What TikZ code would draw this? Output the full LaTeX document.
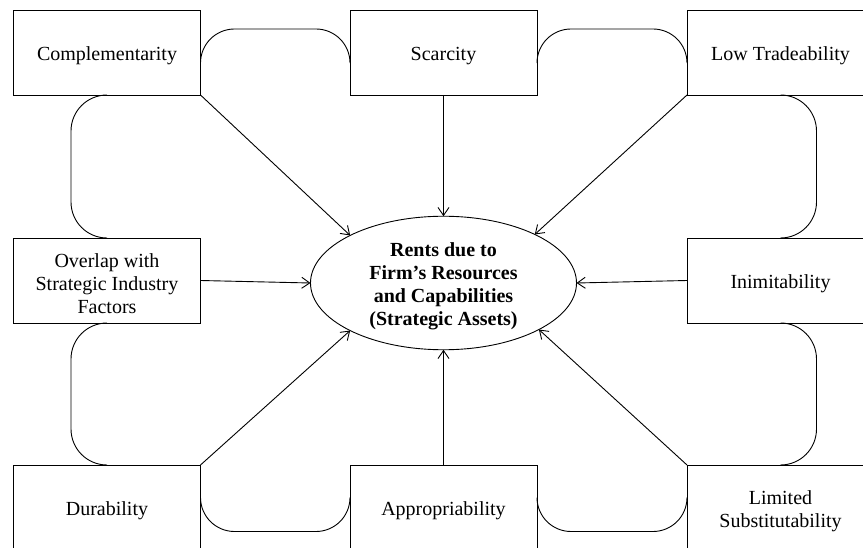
\documentclass[tikz,border=0pt]{standalone}
\usepackage{fontspec}
\setmainfont{Liberation Serif}
\usetikzlibrary{shapes.geometric,arrows.meta,calc}

% extra room above the first line, to sit the text a little low in its box
\newcommand{\lowstrut}{\rule{0pt}{21pt}}

\tikzset{
  factor/.style={draw, rectangle, minimum width=187pt, minimum height=85pt,
    inner sep=0pt, outer sep=0pt, align=center,
    font=\fontsize{20}{23}\selectfont},
  rent/.style={draw, ellipse, minimum width=266pt, minimum height=132pt,
    inner sep=0pt, outer sep=0pt, align=center,
    font=\fontsize{20}{23}\selectfont\bfseries},
  feed/.style={-{Straight Barb[length=8pt,width=11pt]}},
  link/.style={rounded corners=34pt},
}

\begin{document}
\begin{tikzpicture}[x=1pt, y=-1pt, line width=0.9pt]
  \useasboundingbox (0,0) rectangle (863,548);
  \clip (0,0) rectangle (863,548);

  % central asset node
  \node[rent] (e) at (443.5,283) {\lowstrut Rents due to\\Firm’s Resources\\and Capabilities\\(Strategic Assets)};

  % surrounding resource attributes
  \node[factor] (comp) at (107,52.5)   {\lowstrut Complementarity};
  \node[factor] (scar) at (443.5,52.5) {\lowstrut Scarcity};
  \node[factor] (lowt) at (780.5,52.5) {\lowstrut Low Tradeability};
  \node[factor] (over) at (107,280.5)  {\lowstrut Overlap with\\Strategic Industry\\Factors};
  \node[factor] (inim) at (780.5,280.5){\lowstrut Inimitability};
  \node[factor] (dura) at (107,507.5)  {\lowstrut Durability};
  \node[factor] (appr) at (443.5,507.5){\lowstrut Appropriability};
  \node[factor] (limi) at (780.5,507.5){\lowstrut Limited\\Substitutability};

  % arrows into the centre
  \draw[feed] (comp.south east) -- (e.153);
  \draw[feed] (scar.south)      -- (e.north);
  \draw[feed] (lowt.south west) -- (e.28);
  \draw[feed] (over.east)       -- (e.west);
  \draw[feed] (inim.west)       -- (e.east);
  \draw[feed] (dura.north east) -- (e.207);
  \draw[feed] (appr.north)      -- (e.south);
  \draw[feed] (limi.north west) -- (e.334);

  % rounded links along the top row
  \draw[link] ($(comp.east)+(0,10)$) |- ($(scar.west)+(0,-23.5)$) -- ($(scar.west)+(0,10)$);
  \draw[link] ($(scar.east)+(0,10)$) |- ($(lowt.west)+(0,-23.5)$) -- ($(lowt.west)+(0,10)$);

  % rounded links along the bottom row
  \draw[link] ($(dura.east)+(0,-10)$) |- ($(appr.west)+(0,24)$) -- ($(appr.west)+(0,-10)$);
  \draw[link] ($(appr.east)+(0,-10)$) |- ($(limi.west)+(0,24)$) -- ($(limi.west)+(0,-10)$);

  % rounded links down the left column
  \draw[rounded corners=36pt] (comp.south) -- ++(-36,0) -- ($(over.north)+(-36,0)$) -- (over.north);
  \draw[rounded corners=36pt] (over.south) -- ++(-36,0) -- ($(dura.north)+(-36,0)$) -- (dura.north);

  % rounded links down the right column
  \draw[rounded corners=36pt] (lowt.south) -- ++(36,0) -- ($(inim.north)+(36,0)$) -- (inim.north);
  \draw[rounded corners=36pt] (inim.south) -- ++(36,0) -- ($(limi.north)+(36,0)$) -- (limi.north);
\end{tikzpicture}
\end{document}
